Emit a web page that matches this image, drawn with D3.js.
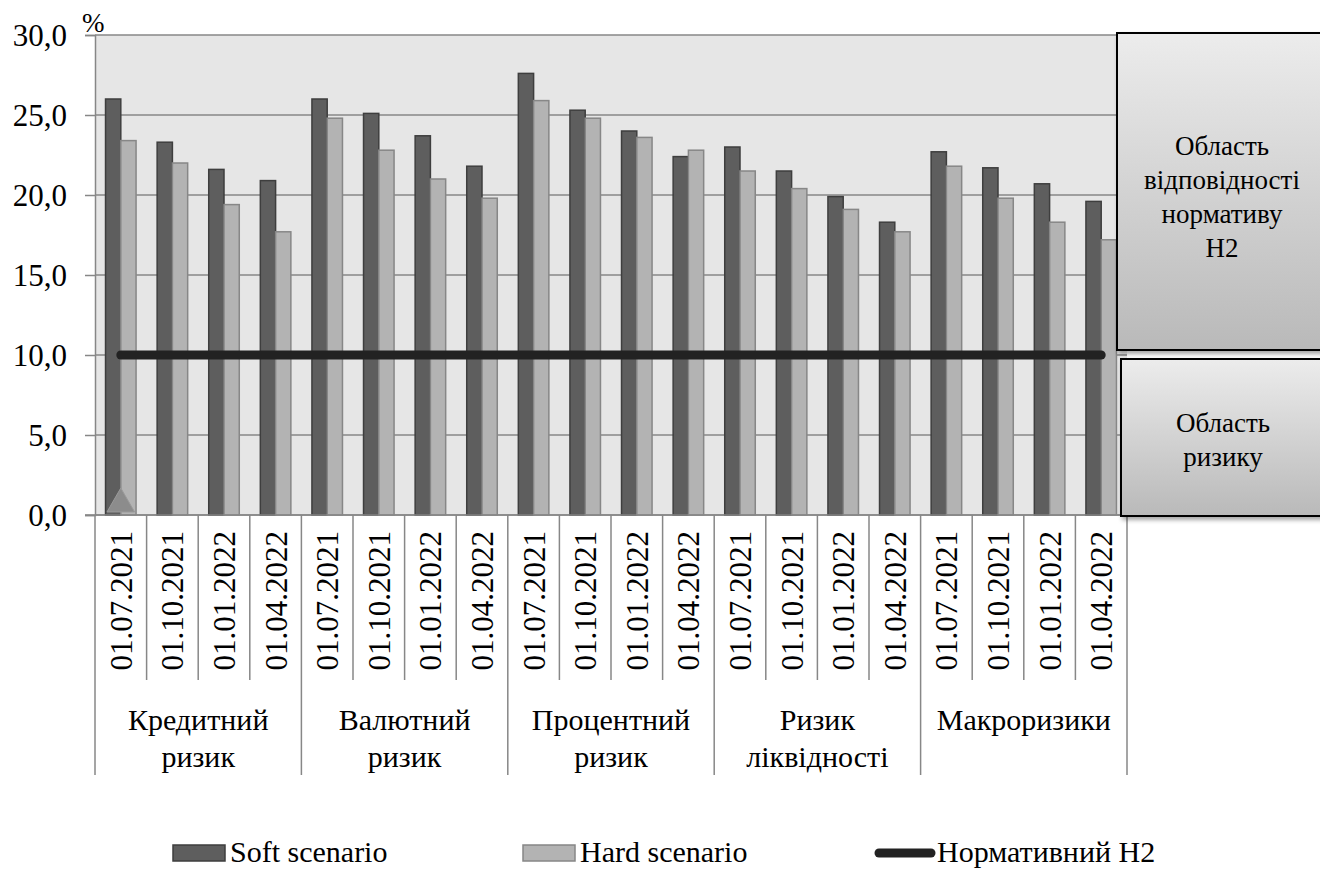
<!DOCTYPE html>
<html><head><meta charset="utf-8">
<script src="https://cdn.jsdelivr.net/npm/d3@7"></script>
<style>
html,body{margin:0;padding:0;background:#fff;}
</style></head>
<body><svg id="chart" width="1320" height="870"></svg>
<script>
// ---- data ----
const groups = [["Кредитний","ризик"],["Валютний","ризик"],["Процентний","ризик"],["Ризик","ліквідності"],["Макроризики"]];
const dates = ["01.07.2021","01.10.2021","01.01.2022","01.04.2022"];
const softValues = [26.0,23.3,21.6,20.9, 26.0,25.1,23.7,21.8, 27.6,25.3,24.0,22.4, 23.0,21.5,19.9,18.3, 22.7,21.7,20.7,19.6];
const hardValues = [23.4,22.0,19.4,17.7, 24.8,22.8,21.0,19.8, 25.9,24.8,23.6,22.8, 21.5,20.4,19.1,17.7, 21.8,19.8,18.3,17.2];
const normValue = 10.0;
const yTicks = [0,5,10,15,20,25,30];
const seriesNames = ["Soft scenario","Hard scenario","Нормативний Н2"];
const boxTop = ["Область","відповідності","нормативу","Н2"];
const boxBottom = ["Область","ризику"];

// ---- layout ----
const L = 95, R = 1127, T = 35, B = 515;
const svg = d3.select("#chart");
const cats = [];
groups.forEach((g,gi)=>dates.forEach((d,di)=>cats.push({g:gi,d:d,i:gi*dates.length+di})));
const x0 = d3.scaleBand().domain(cats.map(c=>c.i)).range([L,R]).paddingInner(0).paddingOuter(0);
const x1 = d3.scaleBand().domain(["soft","hard"]).range([0,x0.bandwidth()]).paddingInner(0).paddingOuter(0.69);
const y = d3.scaleLinear().domain([0,30]).range([B,T]);
const fmt = v => d3.format(".1f")(v).replace(".",",");

const defs = svg.append("defs");
const grad = defs.append("linearGradient").attr("id","boxg").attr("x1",0).attr("y1",0).attr("x2",0).attr("y2",1);
grad.append("stop").attr("offset","0%").attr("stop-color","#ececec");
grad.append("stop").attr("offset","100%").attr("stop-color","#b9b9b9");
const sh = defs.append("filter").attr("id","shadow").attr("x","-10%").attr("y","-10%").attr("width","130%").attr("height","130%");
sh.append("feDropShadow").attr("dx",2).attr("dy",3).attr("stdDeviation",2).attr("flood-color","#000").attr("flood-opacity",0.35);

// plot background
svg.append("rect").attr("x",L).attr("y",T).attr("width",R-L).attr("height",B-T).attr("fill","#e6e6e6");

// gridlines + y axis
const yAxis = d3.axisLeft(y).tickValues(yTicks).tickFormat(fmt).tickSize(10).tickPadding(18);
const gy = svg.append("g").attr("transform",`translate(${L},0)`).call(yAxis);
gy.select(".domain").attr("stroke","#878787").attr("stroke-width",1.5);
gy.selectAll(".tick line").attr("stroke","#878787").attr("stroke-width",1.5);
gy.selectAll(".tick text").attr("font-size",31).attr("dy","0.34em");
svg.append("g").selectAll("line").data(yTicks).join("line")
  .attr("x1",L).attr("x2",R).attr("y1",d=>y(d)).attr("y2",d=>y(d))
  .attr("stroke","#878787").attr("stroke-width",1.5);
svg.append("text").attr("x",82).attr("y",32).attr("font-size",27).text("%");

// bars
const gb = svg.append("g");
const bars = [];
cats.forEach(c=>{bars.push({i:c.i,k:"soft",v:softValues[c.i]});bars.push({i:c.i,k:"hard",v:hardValues[c.i]});});
gb.selectAll("rect").data(bars).join("rect")
  .attr("x",d=>x0(d.i)+x1(d.k)).attr("width",x1.bandwidth())
  .attr("y",d=>y(d.v)).attr("height",d=>y(0)-y(d.v))
  .attr("fill",d=>d.k==="soft"?"#5e5e5e":"#b3b3b3")
  .attr("stroke",d=>d.k==="soft"?"#3e3e3e":"#878787").attr("stroke-width",1.5);

// x axis line
svg.append("line").attr("x1",85).attr("x2",R).attr("y1",B).attr("y2",B).attr("stroke","#878787").attr("stroke-width",1.5);

// stray marker (triangle at 0 on first category)
svg.append("path").attr("d",d3.symbol().type(d3.symbolTriangle).size(330)())
  .attr("transform",`translate(${x0(0)+x0.bandwidth()/2},${y(0)-11})`)
  .attr("fill","#8c8c8c").attr("stroke","#9a9a9a");

// normative line
const lineData = cats.map(c=>({i:c.i,v:normValue}));
svg.append("path").datum(lineData)
  .attr("d",d3.line().x(d=>x0(d.i)+x0.bandwidth()/2).y(d=>y(d.v)))
  .attr("fill","none").attr("stroke","#222").attr("stroke-width",9).attr("stroke-linecap","round");

// category separators
const sep = svg.append("g");
d3.range(cats.length+1).forEach(k=>{
  const xx = k<cats.length ? x0(k) : R;
  const isGroup = k % dates.length === 0;
  sep.append("line").attr("x1",xx).attr("x2",xx).attr("y1",B).attr("y2",isGroup?775:680)
    .attr("stroke","#878787").attr("stroke-width",1.5);
});
// date labels
svg.append("g").selectAll("text").data(cats).join("text")
  .attr("transform",d=>`translate(${x0(d.i)+x0.bandwidth()/2+11},531) rotate(-90)`)
  .attr("text-anchor","end").attr("font-size",31).text(d=>d.d);
// group labels
groups.forEach((g,gi)=>{
  const cx = (x0(gi*4)+x0(gi*4+3)+x0.bandwidth())/2;
  g.forEach((ln,li)=>{
    svg.append("text").attr("x",cx).attr("y",730+li*37).attr("text-anchor","middle").attr("font-size",30).text(ln);
  });
});

// annotation boxes
svg.append("rect").attr("x",1117).attr("y",33).attr("width",215).attr("height",317)
  .attr("fill","url(#boxg)").attr("stroke","#000").attr("stroke-width",2).attr("filter","url(#shadow)");
boxTop.forEach((t,k)=>svg.append("text").attr("x",1222).attr("y",155+k*34).attr("text-anchor","middle").attr("font-size",27).text(t));
svg.append("rect").attr("x",1121).attr("y",359).attr("width",215).attr("height",157)
  .attr("fill","url(#boxg)").attr("stroke","#000").attr("stroke-width",2).attr("filter","url(#shadow)");
boxBottom.forEach((t,k)=>svg.append("text").attr("x",1223).attr("y",432+k*34).attr("text-anchor","middle").attr("font-size",27).text(t));

// legend
const lg = svg.append("g");
const legItems = [{x:173,type:"rect",fill:"#5e5e5e",stroke:"#3e3e3e"},{x:523,type:"rect",fill:"#b3b3b3",stroke:"#878787"},{x:875,type:"line"}];
legItems.forEach((it,k)=>{
  if(it.type==="rect"){
    lg.append("rect").attr("x",it.x).attr("y",845).attr("width",52).attr("height",16).attr("fill",it.fill).attr("stroke",it.stroke).attr("stroke-width",1.5);
    lg.append("text").attr("x",it.x+57).attr("y",862).attr("font-size",30).text(seriesNames[k]);
  } else {
    lg.append("line").attr("x1",it.x+4).attr("x2",it.x+56).attr("y1",853).attr("y2",853).attr("stroke","#222").attr("stroke-width",9).attr("stroke-linecap","round");
    lg.append("text").attr("x",it.x+62).attr("y",862).attr("font-size",30).text(seriesNames[k]);
  }
});
svg.selectAll("text").each(function(){
  const fs = this.getAttribute("font-size") || 30;
  this.setAttribute("style", `font-family:'Liberation Serif' !important; font-size:${fs}px; fill:#000;`);
});
</script></body></html>
